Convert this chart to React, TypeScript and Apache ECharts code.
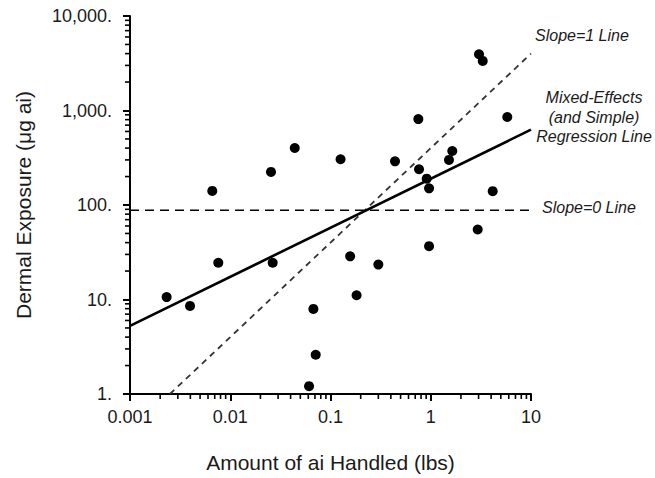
import React, { useEffect, useRef } from "react";
import * as echarts from "echarts";

// Observations: amount handled (lbs) and dermal exposure (ug ai)
const amountHandled = [
  0.00232, 0.00397, 0.0076, 0.0265, 0.00662, 0.0255, 0.044, 0.126, 0.752, 0.44,
  0.764, 0.911, 0.962, 1.52, 1.64, 5.8, 4.15, 2.94, 0.962, 0.157,
  0.3, 0.182, 0.0675, 0.0712, 0.0611, 3.03, 3.3,
];
const dermalExposure = [
  10.6, 8.55, 24.5, 24.5, 141, 224, 401, 305, 812, 290,
  239, 190, 150, 300, 373, 853, 140, 55, 36.7, 28.6,
  23.4, 11.1, 7.95, 2.6, 1.21, 3940, 3350,
];

// Reference lines (endpoints)
const regressionX = [0.001, 10];
const regressionY = [5.26, 627];
const slope1X = [0.0025, 10];
const slope1Y = [1, 4000];
const slope0X = [0.001, 10];
const slope0Y = [88, 88];

// Tick labels
const xTickLabels = ["0.001", "0.01", "0.1", "1", "10"];
const yTickLabels = ["1.", "10.", "100.", "1,000.", "10,000."];
const xMinDecade = -3;
const yMinDecade = 0;
const minorMultipliers = [2, 3, 4, 5, 6, 7, 8, 9];

const FONT = "'Liberation Sans', Arial, Helvetica, sans-serif";
const TEXT = "#1a1a1a";
const TICK = "#000";

const annotations = [
  {
    type: "text",
    left: 535,
    top: 27,
    style: { text: "Slope=1 Line", fontSize: 16, fontStyle: "italic", fill: TEXT, fontFamily: FONT },
  },
  {
    type: "text",
    x: 594,
    y: 88,
    style: {
      text: "Mixed-Effects\n(and Simple)\nRegression Line",
      fontSize: 16,
      fontStyle: "italic",
      fill: TEXT,
      fontFamily: FONT,
      align: "center",
      lineHeight: 19.5,
    },
  },
  {
    type: "text",
    left: 542,
    top: 199,
    style: { text: "Slope=0 Line", fontSize: 16, fontStyle: "italic", fill: TEXT, fontFamily: FONT },
  },
];

export default function App() {
  const ref = useRef<HTMLDivElement>(null);

  useEffect(() => {
    if (!ref.current) return;
    const chart = echarts.init(ref.current, undefined, { renderer: "svg" });

    const points = amountHandled.map((x, i) => [x, dermalExposure[i]]);

    chart.setOption({
      animation: false,
      textStyle: { fontFamily: FONT },
      grid: { left: 130, top: 16, width: 401, height: 379, containLabel: false },
      xAxis: {
        type: "log",
        logBase: 10,
        min: 0.001,
        max: 10,
        name: "Amount of ai Handled (lbs)",
        nameLocation: "middle",
        nameGap: 58,
        nameTextStyle: { fontSize: 21, color: TEXT, fontFamily: FONT },
        axisLine: { show: true, lineStyle: { color: "#000", width: 2 } },
        axisTick: { show: true, length: 7, lineStyle: { color: TICK, width: 2 } },
        axisLabel: {
          fontSize: 18,
          color: TEXT,
          margin: 14,
          fontFamily: FONT,
          formatter: (v: number) => xTickLabels[Math.round(Math.log10(v)) - xMinDecade] ?? "",
        },
        splitLine: { show: false },
      },
      yAxis: {
        type: "log",
        logBase: 10,
        min: 1,
        max: 10000,
        name: "Dermal Exposure (\u03bcg ai)",
        nameLocation: "middle",
        nameGap: 96,
        nameTextStyle: { fontSize: 21, color: TEXT, fontFamily: FONT },
        axisLine: { show: true, lineStyle: { color: "#000", width: 2 } },
        axisTick: { show: true, length: 7, lineStyle: { color: TICK, width: 2 } },
        axisLabel: {
          fontSize: 18,
          color: TEXT,
          margin: 18,
          fontFamily: FONT,
          formatter: (v: number) => yTickLabels[Math.round(Math.log10(v)) - yMinDecade] ?? "",
        },
        splitLine: { show: false },
      },
      series: [
        {
          type: "line",
          data: slope0X.map((x, i) => [x, slope0Y[i]]),
          symbol: "none",
          lineStyle: { color: "#000", width: 1.5, type: [9, 6] },
          silent: true,
        },
        {
          type: "line",
          data: slope1X.map((x, i) => [x, slope1Y[i]]),
          symbol: "none",
          lineStyle: { color: "#333", width: 1.8, type: [6, 5] },
          silent: true,
        },
        {
          type: "line",
          data: regressionX.map((x, i) => [x, regressionY[i]]),
          symbol: "none",
          lineStyle: { color: "#000", width: 2.6 },
          silent: true,
        },
        {
          type: "scatter",
          data: points,
          symbol: "circle",
          symbolSize: 10,
          itemStyle: { color: "#000", opacity: 1 },
          z: 5,
        },
      ],
      graphic: annotations,
    });

    // Minor ticks (2..9 within each decade), placed through the chart's own scales
    const ticks: any[] = [];
    for (let d = -3; d < 1; d++) {
      for (const k of minorMultipliers) {
        const p = chart.convertToPixel({ gridIndex: 0 }, [k * Math.pow(10, d), 1]) as number[];
        if (p && isFinite(p[0])) {
          ticks.push({
            type: "line",
            silent: true,
            shape: { x1: p[0], y1: p[1], x2: p[0], y2: p[1] + 5 },
            style: { stroke: TICK, lineWidth: 1.6 },
          });
        }
      }
    }
    for (let d = 0; d < 4; d++) {
      for (const k of minorMultipliers) {
        const p = chart.convertToPixel({ gridIndex: 0 }, [0.001, k * Math.pow(10, d)]) as number[];
        if (p && isFinite(p[1])) {
          ticks.push({
            type: "line",
            silent: true,
            shape: { x1: p[0], y1: p[1], x2: p[0] - 5, y2: p[1] },
            style: { stroke: TICK, lineWidth: 1.6 },
          });
        }
      }
    }
    chart.setOption({ graphic: [...annotations, ...ticks] });

    return () => chart.dispose();
  }, []);

  return (
    <div
      ref={ref}
      style={{ position: "absolute", left: 0, top: 0, width: 655, height: 478, background: "#fff" }}
    />
  );
}
